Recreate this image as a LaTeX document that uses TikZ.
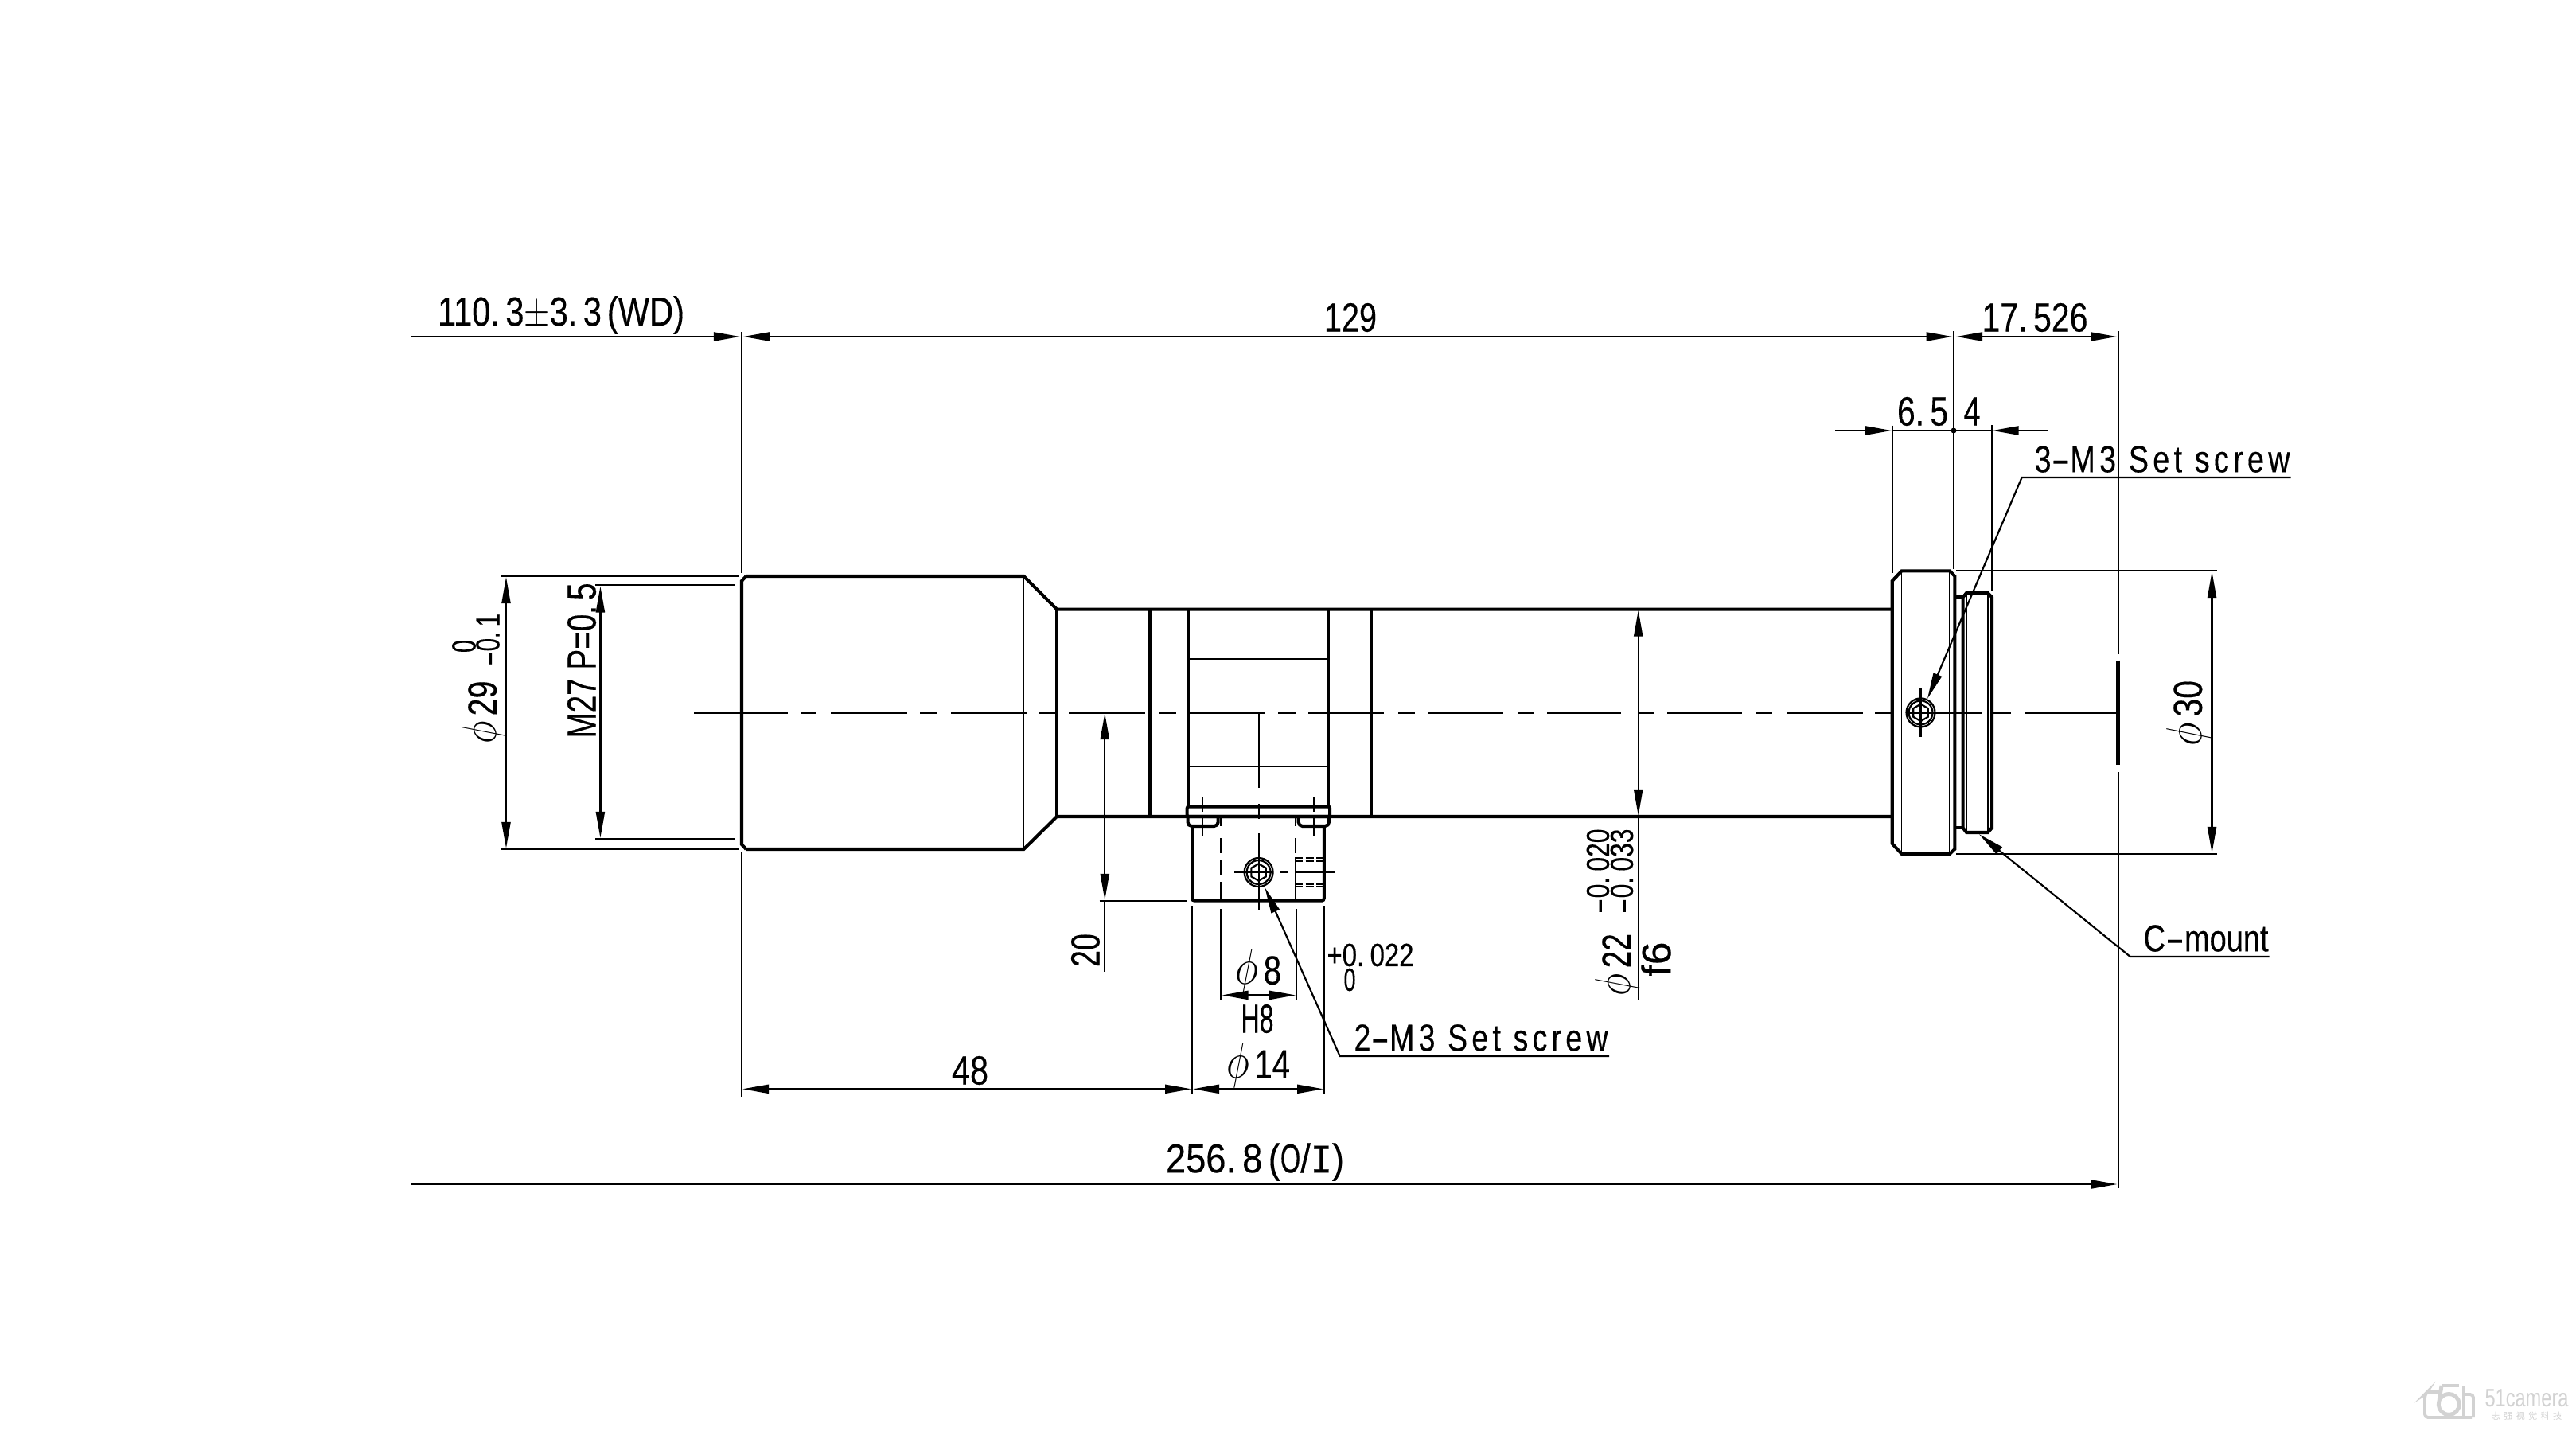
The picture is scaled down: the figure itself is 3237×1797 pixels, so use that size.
\documentclass[tikz,border=0pt]{standalone}
\usepackage{fontspec}
\usepackage{graphicx}
\usetikzlibrary{arrows.meta}
\setmainfont[FakeBold=0.35]{Liberation Sans}
\newfontfamily\spacedf[LetterSpace=14,FakeBold=0.35]{Liberation Sans}
\newfontfamily\monof[FakeBold=0.35]{Liberation Mono}
\newfontfamily\cjkf{Noto Sans CJK SC}
\newfontfamily\wmf{Liberation Sans}
\newdimen\pxu \pxu=0.01cm
\newcommand{\dt}{.\kern2.6pt}
\newcommand{\ph}{\scalebox{1.25}{$\phi$}\kern2.5pt}
\newcommand{\hy}{\scalebox{1.9}[1]{-}}
\newcommand{\nO}{\scalebox{0.72}[1]{O}}
% \lbl[size]{name}{rotation}{cx}{cy}{width px}{text}
\newcommand{\lbl}[7][14.5]{\node[inner sep=0pt,rotate=#3] (#2) at (#4,#5) {\fontsize{#1pt}{#1pt}\selectfont\resizebox*{#6\pxu}{\totalheight}{#7}};}
\tikzset{
 thin line/.style={line width=0.62pt},
 thick line/.style={line width=1.15pt},
 hair/.style={line width=0.42pt},
 dimtip/.style={-{Triangle[length=0.33cm,width=0.11cm]}},
 dimtips/.style={{Triangle[length=0.33cm,width=0.11cm]}-{Triangle[length=0.33cm,width=0.11cm]}},
 logo/.style={line width=1.1pt,draw=logogray,rounded corners=0.04cm},
}
\definecolor{logogray}{HTML}{D2D2D2}
\begin{document}
\begin{tikzpicture}[x=0.01cm,y=-0.01cm,line cap=butt,line join=miter]
\useasboundingbox (0,0) rectangle (3237,1797);
\fill[white] (0,0) rectangle (3237,1797);
% ---- lens outline
\begin{scope}[thick line]
\draw (937.5,724) -- (1286.5,724) -- (1328,765.6) -- (2377.7,765.6);
\draw (937.5,1067) -- (1286.5,1067) -- (1328,1026) -- (2377.7,1026);
\draw (937.5,724) -- (932,730) -- (932,1061) -- (937.5,1067);
\foreach \x in {1328,1445.4,1723} \draw (\x,765.6) -- (\x,1026);
\foreach \x in {1492.9,1669.4} \draw (\x,765.6) -- (\x,1014);
% flange
\draw (2389.7,717.3) -- (2450,717.3) -- (2456.3,724) -- (2456.3,1066.8) -- (2450,1073) -- (2389.7,1073) -- (2377.7,1060) -- (2377.7,730) -- cycle;
% neck and thread
\draw (2456.3,750.5) -- (2466.5,750.5);
\draw (2456.3,1040) -- (2466.5,1040);
\draw (2466.5,750.5) -- (2471,745) -- (2497.8,745) -- (2503.1,750.5) -- (2503.1,1040) -- (2497.8,1046) -- (2471,1046) -- (2466.5,1040) -- cycle;
% clamp ring, tabs, block
\draw[rounded corners=0.02cm] (1491.7,1013.5) rectangle (1671,1026);
\draw[rounded corners=0.05cm] (1492.5,1026) -- (1492.5,1038) -- (1530.7,1038) -- (1530.7,1026);
\draw[rounded corners=0.05cm] (1631.7,1026) -- (1631.7,1038) -- (1670,1038) -- (1670,1026);
\draw[rounded corners=0.03cm] (1498,1038) -- (1498,1131.7) -- (1663.8,1131.7) -- (1663.8,1038);
\end{scope}
\begin{scope}[hair]
\draw (937.5,724) -- (937.5,1067);
\draw (1286.5,724) -- (1286.5,1067);
\draw (2389.7,717.3) -- (2389.7,1073);
\draw (2449.5,717.3) -- (2449.5,1073);
\draw (2471,745) -- (2471,1046);
\draw (2497.8,745) -- (2497.8,1046);
\draw (1492.9,828) -- (1669.4,828);
\draw (1492.9,963.4) -- (1669.4,963.4);
\end{scope}
% ---- centre line
\begin{scope}[thin line]
\foreach \a/\b in {872/990,1044/1140,1195/1289.5,1343/1439,1494/1590,1644/1739,1795/1889,1944/2037,2095/2189,2245/2340.6,2395/2490,2544.6/2661,1007/1025,1156/1177.5,1306/1327,1456/1477.5,1606/1627.5,1757/1778,1907/1927.5,2058/2078,2207/2227,2356/2377,2503.6/2527}
  \draw (\a,895.5) -- (\b,895.5);
% clamp centre line
\foreach \a/\b in {895.5/990,1010/1029,1047/1144}
  \draw (1581.6,\a) -- (1581.6,\b);
% screw centre line
\foreach \a/\b in {1551/1600,1608/1619,1627/1676.7}
  \draw (\a,1096) -- (\b,1096);
% tab axis
\foreach \x in {1511.3,1650.7} {
  \draw (\x,1001.7) -- (\x,1020);
  \draw (\x,1024) -- (\x,1050);
}
% hole
\foreach \a/\b in {1027/1038,1053/1072,1080/1100,1108/1131.7}
  \draw (1534.5,\a) -- (1534.5,\b);
\foreach \a/\b in {1027/1038,1053/1072,1079/1131.7}
  \draw (1628,\a) -- (1628,\b);
\foreach \y in {1078.3,1081.7,1110.7,1114.3}
  \draw[dash pattern=on 0.1cm off 0.035cm] (1627,\y) -- (1663.8,\y);
% axis marker
\draw (2661.6,416) -- (2661.6,822);
\draw (2661.6,970) -- (2661.6,1493);
\draw[line width=1.3pt] (2661.6,829.6) -- (2661.6,961);
% extension lines
\draw (932,416.5) -- (932,720);
\draw (932,1069.6) -- (932,1378);
\draw (2455,416) -- (2455,715);
\draw (2377.7,534.7) -- (2377.7,720);
\draw (2502.7,534) -- (2502.7,742);
\draw (630,724) -- (928,724);
\draw (630,1067) -- (928,1067);
\draw (748,735.4) -- (923,735.4);
\draw (748,1054) -- (923,1054);
\draw (2458,717.3) -- (2786,717.3);
\draw (2458,1073) -- (2786,1073);
\draw (1381.6,1131.7) -- (1491,1131.7);
\draw (1498,1138) -- (1498,1374);
\draw (1663.8,1138) -- (1663.8,1374);
\draw (1534.5,1142) -- (1534.5,1256);
\draw (1629,1142) -- (1629,1256);
% dimension lines
\draw[dimtip] (517,423) -- (930,423);
\draw[dimtips] (934,423) -- (2453.5,423);
\draw[dimtips] (2458,423) -- (2660,423);
\draw[dimtip] (2306,541) -- (2377,541);
\draw[dimtip] (2574,541) -- (2503.5,541);
\draw (2377.7,541) -- (2502.7,541);
\fill (2455,541) circle (3.5);
\draw[dimtips] (636,725) -- (636,1066);
\draw[dimtips] (754.4,736.5) -- (754.4,1053);
\draw[dimtips] (2779.5,718) -- (2779.5,1072);
\draw[dimtips] (2058.7,766.5) -- (2058.7,1025);
\draw (2058.7,1025) -- (2058.7,1257);
\draw[dimtips] (1388.3,896) -- (1388.3,1131);
\draw (1388.3,1131) -- (1388.3,1221);
\draw[dimtips] (1535.5,1250.4) -- (1628.2,1250.4);
\draw[dimtips] (933,1368.3) -- (1497,1368.3);
\draw[dimtips] (1499,1368.3) -- (1663,1368.3);
\draw[dimtip] (517,1488) -- (2660.5,1488);
% leaders
\draw[dimtip] (2878.6,600) -- (2540.6,600) -- (2421.9,878);
\draw[dimtip] (2022,1327) -- (1683.7,1327) -- (1589.3,1115);
\draw[dimtip] (2851.5,1202) -- (2676.8,1202) -- (2486.7,1048);
\end{scope}
% ---- screws
\foreach \cx/\cy in {2413.5/895.4,1581.6/1096} {
  \draw[thin line] (\cx,\cy) circle (18);
  \draw[thin line] (\cx,\cy) circle (15);
  \draw[thin line] (\cx,\cy) +(30:10.7) -- +(90:10.7) -- +(150:10.7) -- +(210:10.7) -- +(270:10.7) -- +(330:10.7) -- cycle;
}
\draw[thin line] (2413.5,865) -- (2413.5,925.5);
% ---- labels
\lbl{wd}{0}{705}{396}{310}{110\dt3$\pm$3\dt3\,(WD)}
\lbl{n129}{0}{1697}{399}{66}{129}
\lbl{n17}{0}{2557}{399}{133}{17\dt526}
\lbl{n65}{0}{2416}{517}{64}{6\dt5}
\lbl{n4}{0}{2478}{517}{21}{4}
\lbl[13.5]{scr3}{0}{2717}{577}{321}{\spacedf 3\hy M3 Set screw}
\lbl{phi30}{90}{2751}{896}{82}{\ph30}
\lbl{phi29}{90}{608}{895}{79}{\ph29}
\lbl[12]{tol0}{90}{583}{812}{16}{0}
\lbl[12]{tola}{90}{613}{804}{66}{\hy 0\dt1}
\lbl{m27}{90}{731}{830}{195}{M27 P=0\dt5}
\lbl{n20}{90}{1364}{1194}{42}{20}
\lbl{phi8}{0}{1581}{1221}{58}{\ph8}
\lbl{h8}{0}{1580}{1280}{41}{H8}
\lbl{phi14}{0}{1581}{1339}{80}{\ph14}
\lbl[11.5]{tolb}{0}{1722}{1200}{109}{+0\dt022}
\lbl[11.5]{tolc}{0}{1696}{1231}{15}{0}
\lbl[13.5]{scr2}{0}{1861}{1304}{319}{\spacedf 2\hy M3 Set screw}
\lbl{phi22}{90}{2033}{1212}{78}{\ph22}
\lbl[11.5]{told}{90}{2008}{1095}{107}{\hy 0\dt020}
\lbl[11.5]{tole}{90}{2038}{1095}{107}{\hy 0\dt033}
\lbl{f6}{90}{2081}{1205}{43}{f6}
\lbl{n48}{0}{1219}{1345}{46}{48}
\lbl{oi}{0}{1577}{1460}{224}{256\dt8\,(\nO/{\monof I})}
\lbl[13.5]{cm}{0}{2772}{1179}{157}{C\hy mount}
% ---- watermark
\draw[logo] (3066,1749) -- (3050,1749) -- (3047,1752) -- (3047,1781) -- (3106,1781);
\draw[line width=1.4pt,logogray] (3068,1741) -- (3090,1741);
\draw[line width=1.4pt,logogray] (3068,1741) -- (3065,1760) arc (200:-150:13);
\draw[logo] (3096,1742) -- (3096,1780);
\draw[logo] (3096,1752) -- (3108,1752) -- (3108,1781);
\node[inner sep=0pt,text=logogray] (wm1) at (3175,1757) {\wmf\fontsize{9pt}{9pt}\selectfont\resizebox*{105\pxu}{\totalheight}{51camera}};
\node[inner sep=0pt,text=logogray] (wm2) at (3175,1779) {\cjkf\fontsize{3.2pt}{3.2pt}\selectfont 志\kern1.2pt 强\kern1.2pt 视\kern1.2pt 觉\kern1.2pt 科\kern1.2pt 技};
\end{tikzpicture}
\end{document}
